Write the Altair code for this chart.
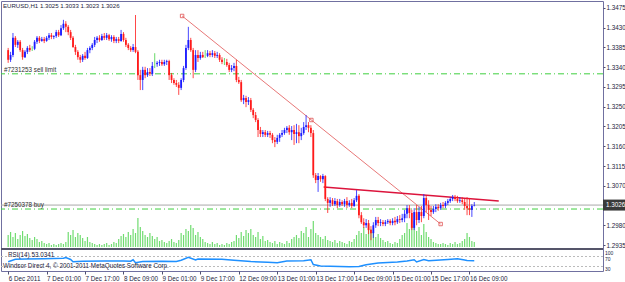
import altair as alt
import pandas as pd

# ---------------- data (prices in pips, 1.3379 -> 13379) ----------------
opens = [
13379,13357,13368,13407,13391,13398,13379,13363,13375,13384,
13380,13382,13398,13407,13400,13404,13400,13407,13413,13409,
13411,13420,13413,13429,13439,13432,13420,13407,13386,13375,
13363,13357,13366,13361,13379,13384,13391,13402,13407,13402,
13411,13407,13413,13404,13409,13400,13404,13400,13416,13402,
13391,13384,13379,13386,13375,13322,13311,13334,13322,13329,
13325,13345,13347,13350,13352,13347,13352,13354,13322,13311,
13304,13300,13293,13311,13338,13384,13402,13379,13334,13368,
13361,13368,13366,13366,13372,13368,13372,13366,13368,13357,
13352,13352,13345,13334,13338,13343,13311,13306,13265,13270,
13261,13265,13243,13231,13220,13197,13188,13192,13186,13190,
13186,13174,13170,13179,13186,13190,13197,13202,13192,13197,
13188,13192,13183,13190,13204,13208,13202,13190,13094,13083,
13092,13085,13092,13040,13031,13037,13028,13035,13026,13033,
13028,13035,13026,13031,13024,13037,13047,13003,12987,12980,
12985,12969,12962,12980,12992,12985,12987,12983,12987,12990,
12985,12990,12987,12994,12992,12996,13006,13019,13008,12974,
13010,12992,13010,13001,13042,13026,13015,13010,13017,13022,
13019,13026,13024,13031,13035,13040,13044,13040,13035,13037,
13033,13024,13019,13015,13025]

highs = [
13384,13375,13418,13411,13402,13402,13384,13379,13388,13391,
13388,13402,13411,13411,13409,13409,13411,13418,13418,13413,
13425,13425,13436,13448,13445,13436,13425,13411,13391,13379,
13368,13370,13375,13384,13388,13395,13409,13411,13413,13416,
13418,13418,13416,13413,13413,13409,13409,13425,13420,13407,
13395,13388,13393,13459,13379,13334,13341,13341,13338,13338,
13352,13372,13354,13357,13357,13357,13357,13357,13327,13315,
13311,13306,13315,13343,13391,13432,13407,13384,13379,13379,
13375,13375,13379,13379,13377,13379,13377,13375,13372,13363,
13361,13359,13350,13345,13350,13357,13318,13311,13277,13275,
13272,13270,13247,13238,13224,13204,13197,13197,13195,13195,
13190,13181,13186,13190,13197,13202,13206,13208,13206,13208,
13211,13208,13202,13215,13231,13215,13208,13197,13099,13099,
13094,13097,13094,13044,13044,13042,13042,13040,13040,13037,
13040,13044,13037,13040,13042,13060,13051,13010,12996,12994,
12992,12978,12987,12999,12999,12994,12992,12992,12994,12994,
12996,12999,13001,13003,13006,13015,13026,13026,13015,13019,
13026,13022,13024,13051,13047,13037,13024,13024,13028,13028,
13031,13033,13035,13040,13044,13049,13049,13047,13044,13044,
13040,13044,13042,13028,13033]

lows = [
13350,13352,13363,13386,13384,13375,13357,13361,13370,13375,
13377,13379,13393,13395,13398,13395,13398,13402,13404,13404,
13407,13409,13411,13425,13420,13413,13402,13384,13368,13357,
13350,13352,13357,13359,13372,13379,13386,13395,13398,13400,
13402,13402,13400,13398,13395,13395,13395,13398,13398,13386,
13379,13375,13375,13372,13311,13288,13288,13315,13318,13320,
13320,13338,13341,13343,13343,13343,13345,13311,13304,13300,
13295,13277,13288,13306,13334,13379,13375,13315,13329,13352,
13357,13361,13361,13363,13363,13363,13361,13361,13352,13347,
13345,13341,13329,13329,13331,13306,13302,13261,13256,13249,
13254,13238,13224,13215,13181,13181,13181,13181,13181,13179,
13167,13158,13165,13170,13181,13186,13190,13186,13174,13163,
13167,13167,13174,13186,13197,13192,13181,13088,13076,13056,
13079,13076,13035,13008,13022,13024,13024,13019,13022,13024,
13022,13019,13022,13019,13022,13033,12996,12983,12974,12974,
12960,12946,12951,12974,12978,12978,12978,12978,12983,12980,
12980,12980,12983,12985,12987,12987,12996,12996,12969,12969,
12980,12985,12987,12996,13010,12992,13001,13006,13010,13013,
13015,13019,13019,13026,13031,13035,13035,13031,13031,13028,
13015,13003,13003,12999,13023]

closes = [
13357,13368,13407,13391,13398,13379,13363,13375,13384,13379,
13380,13398,13407,13400,13404,13400,13407,13413,13409,13411,
13420,13413,13429,13439,13432,13420,13407,13386,13375,13363,
13357,13366,13361,13379,13384,13391,13402,13407,13402,13411,
13407,13413,13404,13409,13400,13404,13400,13416,13402,13391,
13384,13379,13386,13375,13322,13311,13334,13322,13329,13325,
13343,13345,13350,13352,13347,13352,13354,13322,13311,13304,
13300,13293,13311,13338,13384,13402,13379,13334,13368,13361,
13368,13363,13366,13372,13368,13372,13366,13368,13357,13352,
13352,13345,13334,13338,13343,13311,13306,13265,13270,13261,
13265,13243,13231,13220,13197,13188,13192,13186,13190,13186,
13174,13170,13179,13186,13190,13197,13202,13192,13197,13188,
13192,13183,13190,13204,13208,13202,13190,13094,13083,13092,
13085,13092,13040,13031,13037,13028,13035,13026,13033,13028,
13035,13026,13031,13024,13037,13047,13003,12987,12980,12985,
12969,12962,12980,12992,12985,12987,12983,12987,12990,12985,
12990,12987,12994,12992,12996,13006,13019,13008,12974,13010,
12992,13010,13001,13042,13026,13015,13010,13017,13022,13019,
13026,13024,13031,13035,13040,13044,13040,13035,13037,13033,
13024,13019,13015,13024,13026]

volumes = [
1200,1500,1000,1400,800,1200,1600,1100,1300,900,
700,1000,800,500,600,400,300,400,200,300,
200,300,400,300,500,1500,1200,1700,1000,1400,
1200,900,600,1000,500,400,300,200,300,200,
300,400,200,300,500,400,800,1100,1300,1000,
1500,1200,1800,1400,2900,2000,1600,1200,1000,1400,
1100,800,1000,600,700,500,400,600,800,500,
400,700,1400,1200,1800,1600,2200,1900,1200,1500,
1000,800,500,400,300,500,300,400,200,300,
200,400,300,500,600,1200,900,1500,1100,1700,
1400,1800,1200,1000,1500,800,1100,600,700,500,
400,600,300,500,400,300,600,400,800,1000,
1200,900,1600,1400,2000,1000,1800,2600,1400,1200,
1000,800,1100,700,600,500,700,400,600,500,
400,300,600,500,800,1200,1600,1400,2000,1300,
2300,1800,1500,1000,1300,900,700,500,600,400,
300,500,400,800,1200,1400,2400,1800,2100,2600,
1600,2000,1200,2300,1500,1000,800,500,400,300,
300,400,300,200,400,300,500,300,400,600,
800,1400,1000,600,500]

rsi_idx = [0,3,7,15,23,24,26,27,31,40,48,51,52,53,56,64,70,72,75,78,79,89,94,
           101,108,112,116,123,126,127,130,142,146,149,154,162,166,169,170,173,
           175,183,187,190,191,194]
rsi_val = [49,59,60,61,63,66,58,49,51,52,52,51,57,45,50,51,50,55,67,56,60,59,55,
           50,47,45,52,53,57,38,32,29,30,37,44,48,52,57,48,58,
           53,58,61,56,54,53.0341]

tick_idx = [0,16,32,48,64,80,96,112,128,144,160,176,192]
tick_labels = ["6 Dec 2011","7 Dec 01:00","7 Dec 17:00","8 Dec 09:00","9 Dec 01:00",
               "9 Dec 17:00","12 Dec 09:00","13 Dec 01:00","13 Dec 17:00",
               "14 Dec 09:00","15 Dec 01:00","15 Dec 17:00","16 Dec 09:00"]
price_ticks = [1.2935,1.2980,1.3070,1.3115,1.3160,1.3205,1.3250,1.3295,
               1.3340,1.3385,1.3430,1.3475]
rsi_levels = [70, 30]
rsi_top_label = 100
rsi_level_labels = [70, 30]

sell_limit = 1.3325
buy_price = 1.3017
bid_price = 1.3026

trend1_i = [72.4, 180.0]
trend1_p = [1.34568, 1.29828]
trend1_marks_i = [72.4, 126.2, 180.0]
trend1_marks_p = [1.34568, 1.32198, 1.29828]
trend2_i = [131.3, 204.2]
trend2_p = [1.30671, 1.30353]

# ---------------- tables ----------------
n = len(opens)
assert len(highs) == n and len(lows) == n and len(closes) == n and len(volumes) == n
candles = pd.DataFrame({
    "i": list(range(n)),
    "o": [v / 10000 for v in opens],
    "h": [v / 10000 for v in highs],
    "l": [v / 10000 for v in lows],
    "c": [v / 10000 for v in closes],
    "kind": ["doji" if c == o else ("up" if c > o else "down") for o, c in zip(opens, closes)],
})
vol_df = pd.DataFrame({"i": list(range(n)), "v": volumes})
rsi_df = pd.DataFrame({"i": rsi_idx, "r": rsi_val})

FONT = "Liberation Sans"
TXT = "#1c1c3c"
FRAME = "#7070a0"

xs = alt.Scale(domain=[-0.9, 245.5], nice=False, zero=False)
ps = alt.Scale(domain=[1.29282, 1.34909], range=[247, 0], nice=False, zero=False)
vs = alt.Scale(domain=[0, 24600], range=[246, 0], nice=False, zero=True)
rs = alt.Scale(domain=[12, 100], range=[270, 248], nice=False, zero=False)

labels_js = "[" + ",".join("'%s'" % s for s in tick_labels) + "]"
idx_js = "[" + ",".join(str(v) for v in tick_idx) + "]"
xaxis = alt.Axis(values=tick_idx, labelExpr=f"{labels_js}[indexof({idx_js}, datum.value)]",
                 labelAlign="left", labelFont=FONT, labelFontSize=6.3, labelColor=TXT,
                 tickSize=3, tickColor="#505070", domain=False, grid=False,
                 labelPadding=1, title=None, labelFlush=False, labelOverlap=False,
                 labelBound=False)


def X(field="i"):
    return alt.X(f"{field}:Q", scale=xs, axis=xaxis)


def PY(field, axis=None):
    return alt.Y(f"{field}:Q", scale=ps, axis=axis)


kind_color = alt.Color("kind:N", scale=alt.Scale(domain=["up", "down", "doji"],
                       range=["#1a1aff", "#ff1a1a", "#44d044"]), legend=None)

price_axis = alt.Axis(orient="right", values=price_ticks, format=".4f", title=None,
                      labelFont=FONT, labelFontSize=6.3, labelColor=TXT, tickSize=2,
                      tickColor="#505070", labelPadding=1, domain=False, grid=False,
                      labelOverlap=False, labelBound=False)

vol = alt.Chart(vol_df).mark_bar(size=1.2, color="#70dc70").encode(
    x=X(), y=alt.Y("v:Q", scale=vs, axis=None))

rsi_lv = alt.Chart(pd.DataFrame({"r": rsi_levels})).mark_rule(
    color="#bbbbbb", strokeDash=[2, 2], strokeWidth=1).encode(
    y=alt.Y("r:Q", scale=rs, axis=None))

rsi_line = alt.Chart(rsi_df).mark_line(color="#1e90ff", strokeWidth=1.5).encode(
    x=X(), y=alt.Y("r:Q", scale=rs, axis=None))

rsi_lab_top = alt.Chart(pd.DataFrame({"r": [rsi_top_label], "t": [str(rsi_top_label)]})).mark_text(
    align="left", baseline="top", dy=2, font=FONT, fontSize=5.0, color=TXT).encode(
    x=alt.value(604), y=alt.Y("r:Q", scale=rs, axis=None), text="t:N")
rsi_lab = alt.Chart(pd.DataFrame({"r": rsi_level_labels,
                                  "t": [str(v) for v in rsi_level_labels]})).mark_text(
    align="left", baseline="middle", dy=2, font=FONT, fontSize=5.0, color=TXT).encode(
    x=alt.value(604), y=alt.Y("r:Q", scale=rs, axis=None), text="t:N")

orders = alt.Chart(pd.DataFrame({"p": [sell_limit, buy_price]})).mark_rule(
    color="#3fcf3f", strokeDash=[6, 3, 1, 3], strokeWidth=1).encode(y=PY("p"))

order_txt = alt.Chart(pd.DataFrame({"p": [sell_limit, buy_price],
                                    "t": ["#7231253 sell limit", "#7250378 buy"]})).mark_text(
    align="left", baseline="bottom", dy=-1, font=FONT, fontSize=6.3, color="#303030").encode(
    x=alt.value(3), y=PY("p"), text="t:N")

bid = alt.Chart(pd.DataFrame({"p": [bid_price]})).mark_rule(
    color="#a8a8a8", strokeWidth=1).encode(y=PY("p"))

tl1 = alt.Chart(pd.DataFrame({"i": trend1_i, "p": trend1_p})).mark_line(
    color="#e87878", strokeWidth=1).encode(x=X(), y=PY("p"))
tl1m = alt.Chart(pd.DataFrame({"i": trend1_marks_i, "p": trend1_marks_p})).mark_point(
    shape="square", size=12, filled=False, color="#e05050", strokeWidth=0.8, opacity=1).encode(
    x=X(), y=PY("p"))
tl2 = alt.Chart(pd.DataFrame({"i": trend2_i, "p": trend2_p})).mark_line(
    color="#dc143c", strokeWidth=1.6).encode(x=X(), y=PY("p"))

wicks = alt.Chart(candles).mark_rule(strokeWidth=1, opacity=0.8).encode(
    x=X(), y=PY("l", price_axis), y2="h:Q", color=kind_color)
bodies = alt.Chart(candles).mark_bar(size=1.8).encode(
    x=X(), y=PY("o"), y2="c:Q", color=kind_color)

box = alt.Chart(pd.DataFrame({"p": [bid_price]})).mark_point(
    shape="M-1,-0.5L1,-0.5L1,0.5L-1,0.5Z", size=484, filled=True, color="#3a3a3a", opacity=1).encode(
    x=alt.value(613), y=PY("p"))
box_txt = alt.Chart(pd.DataFrame({"p": [bid_price], "t": [f"{bid_price:.4f}"]})).mark_text(
    align="left", baseline="middle", font=FONT, fontSize=6.3, color="white").encode(
    x=alt.value(605), y=PY("p"), text="t:N")

title_txt = "EURUSD,H1  %.4f %.4f %.4f %.4f" % (opens[-1] / 10000, highs[-1] / 10000,
                                               lows[-1] / 10000, closes[-1] / 10000)
title_layer = alt.Chart(pd.DataFrame({"t": [title_txt]})).mark_text(
    align="left", baseline="top", font=FONT, fontSize=6.1, color=TXT).encode(
    x=alt.value(2), y=alt.value(2), text="t:N")

sub_texts = alt.Chart(pd.DataFrame({
    "t": ["RSI(14) %.4f" % rsi_val[-1],
          "Windsor Direct 4, \u00a9 2001-2011 MetaQuotes Software Corp."],
    "x": [7, 2], "y": [254, 265]})).mark_text(
    align="left", baseline="middle", font=FONT, fontSize=6.3, color=TXT).encode(
    x=alt.X("x:Q", scale=None, axis=None), y=alt.Y("y:Q", scale=None, axis=None),
    text="t:N")

sep = alt.Chart(pd.DataFrame({"a": [0]})).mark_rule(color="#55556a", strokeWidth=2).encode(
    x=alt.value(0), x2=alt.value(602), y=alt.value(248))

chart = alt.layer(vol, rsi_lv, rsi_line, rsi_lab_top, rsi_lab, orders, bid, order_txt, tl1,
                  tl1m, tl2, wicks, bodies, box, box_txt, title_layer, sub_texts, sep).resolve_scale(
    y="independent", x="shared").properties(
    width=602, height=270, background="white",
    autosize=alt.AutoSizeParams(type="none"),
    padding={"left": 1, "top": 1, "right": 22, "bottom": 11},
).configure_view(stroke=FRAME, strokeWidth=1)

chart.save("out.html", embed_options={"renderer": "svg", "actions": False})
